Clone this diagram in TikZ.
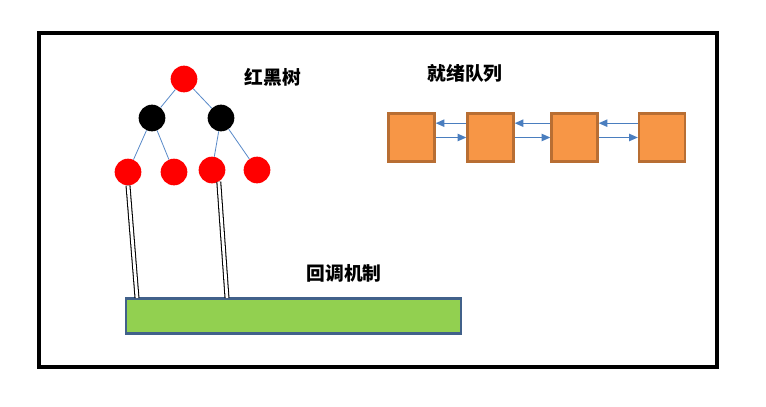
\documentclass[tikz,border=0pt]{standalone}
\usepackage{fontspec}
\newfontfamily\cjk{Noto Sans CJK SC}
\usetikzlibrary{arrows.meta}
\definecolor{cRed}{HTML}{FF0000}
\definecolor{cEdge}{HTML}{5B8BC9}
\definecolor{cQFill}{HTML}{F79646}
\definecolor{cQLine}{HTML}{B86E33}
\definecolor{cArrow}{HTML}{4A7EBF}
\definecolor{cCbFill}{HTML}{92D050}
\definecolor{cCbLine}{HTML}{41618A}

\begin{document}
\begin{tikzpicture}[x=0.03cm, y=-0.03cm,
  font=\cjk\bfseries\fontsize{16}{18}\selectfont,
  >={Triangle[length=2.6mm,width=2.2mm]},
  rbred/.style={circle, fill=cRed, inner sep=0pt, minimum size=0.8cm},
  rbblack/.style={circle, fill=black, inner sep=0pt, minimum size=0.8cm},
  tedge/.style={draw=cEdge, line width=0.7pt},
  qbox/.style={draw=cQLine, fill=cQFill, line width=2pt,
               minimum width=1.38cm, minimum height=1.44cm, inner sep=0pt},
  qlink/.style={->, draw=cArrow, line width=1pt},
  hook/.style={draw=black, double=white, double distance=2.4pt, line width=0.9pt},
  title/.style={inner sep=1pt}
]
\useasboundingbox (0,0) rectangle (766,406);
\draw[line width=3.4pt] (39,33) rectangle (717,367);

% red-black tree
\node[rbred] (root) at (184,79) {};
\node[rbblack] (bl) at (152,118) {};
\node[rbblack] (br) at (221,118) {};
\node[rbred] (ll) at (128,172) {};
\node[rbred] (lr) at (174,172) {};
\node[rbred] (rl) at (212,170) {};
\node[rbred] (rr) at (257,170) {};
\draw[tedge] (root) -- (bl);
\draw[tedge] (root) -- (br);
\draw[tedge] (bl) -- (ll);
\draw[tedge] (bl) -- (lr);
\draw[tedge] (br) -- (rl);
\draw[tedge] (br) -- (rr);
\node[title] (rbt) at (273,77) {红黑树};

% ready queue
\node[qbox] (q1) at (411.5,137.5) {};
\node[qbox] (q2) at (490.5,137.5) {};
\node[qbox] (q3) at (574.5,137.5) {};
\node[qbox] (q4) at (662,137.5) {};
\foreach \a/\b in {q1/q2, q2/q3, q3/q4} {
  \draw[qlink] ([yshift=0.43cm]\b.west) -- ([yshift=0.43cm]\a.east);
  \draw[qlink] (\a.east) -- (\b.west);
}
\node[title] (rdq) at (465,73) {就绪队列};

% callback
\node[draw=cCbLine, fill=cCbFill, line width=2pt, minimum width=10.05cm,
      minimum height=1.05cm, inner sep=0pt] (cb) at (293.5,316) {};
\node[title] (cbt) at (344,273) {回调机制};
\coordinate (cbA) at (137,298);
\coordinate (cbB) at (227,298);
\draw[hook] (ll.south) -- (cbA);
\draw[hook] (rl.-60) -- (cbB);
\end{tikzpicture}
\end{document}
